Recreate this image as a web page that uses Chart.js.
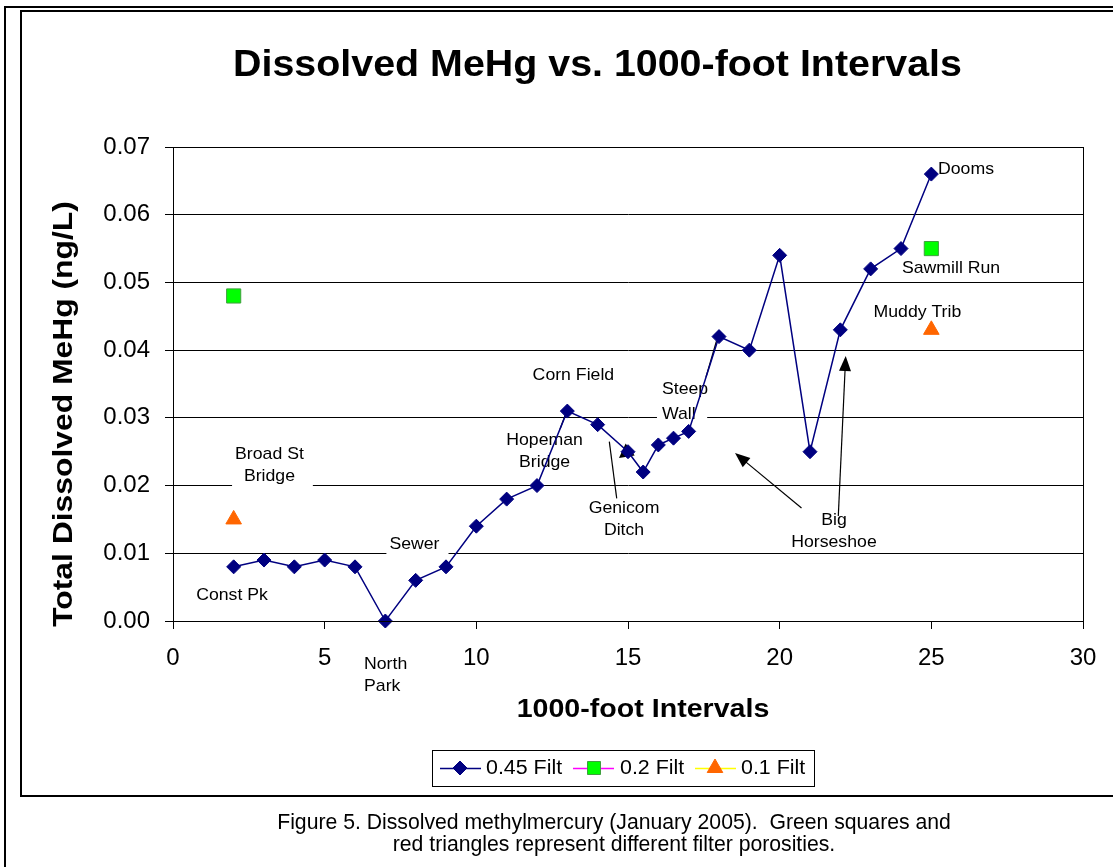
<!DOCTYPE html>
<html>
<head>
<meta charset="utf-8">
<title>Dissolved MeHg vs. 1000-foot Intervals</title>
<script src="https://cdn.jsdelivr.net/npm/chart.js@4/dist/chart.umd.min.js"></script>
<style>
  html, body { margin: 0; padding: 0; background: #fff; }
  body { width: 1113px; height: 867px; position: relative; overflow: hidden;
         font-family: "Liberation Sans", Arial, sans-serif; }
  #pageFrame { position: absolute; left: 4px; top: 6px; width: 1300px; height: 1000px;
               border-left: 2px solid #000; border-top: 2px solid #000; }
  #chartFrame { position: absolute; left: 20px; top: 10px; width: 1200px; height: 783px;
                border: 2px solid #000; background: #fff; }
  #plot { position: absolute; left: 0; top: 0; width: 1113px; height: 867px; }
  #caption { position: absolute; left: 114px; top: 811px; width: 1000px; text-align: center;
             font-size: 21.2px; line-height: 21.5px; color: #000; }
</style>
</head>
<body>
<div id="pageFrame"></div>
<div id="chartFrame"></div>
<canvas id="plot" width="1113" height="867"></canvas>
<div id="caption">Figure 5. Dissolved methylmercury (January 2005).&nbsp; Green squares and<br>red triangles represent different filter porosities.</div>

<script>
// ---- data -------------------------------------------------------------
const intervals045 = [2, 3, 4, 5, 6, 7, 8, 9, 10, 11, 12, 13, 14, 15, 15.5, 16, 16.5, 17, 18, 19, 20, 21, 22, 23, 24, 25];
const mehg045      = [0.008, 0.009, 0.008, 0.009, 0.008, 0.000, 0.006, 0.008, 0.014, 0.018, 0.020, 0.031, 0.029, 0.025,
                      0.022, 0.026, 0.027, 0.028, 0.042, 0.040, 0.054, 0.025, 0.043, 0.052, 0.055, 0.066];
const intervals02  = [2, 25];
const mehg02       = [0.048, 0.055];
const intervals01  = [2, 25];
const mehg01       = [0.015, 0.043];

const xTickValues = [0, 5, 10, 15, 20, 25, 30];
const xTickLabels = ['0', '5', '10', '15', '20', '25', '30'];
const yTickValues = [0, 0.01, 0.02, 0.03, 0.04, 0.05, 0.06, 0.07];
const yTickLabels = ['0.00', '0.01', '0.02', '0.03', '0.04', '0.05', '0.06', '0.07'];

const seriesNames = ['0.45 Filt', '0.2 Filt', '0.1 Filt'];

// Site names along the stream, placed in axis units
const siteLabels = [
  { text: ['Broad St', 'Bridge'],  x: 3.18,  y: 0.0230,  box: true },
  { text: ['Const Pk'],            x: 1.945, y: 0.00377 },
  { text: ['Sewer'],               x: 7.96,  y: 0.01137, box: true },
  { text: ['North', 'Park'],       x: 6.297, y: -0.00805, align: 'left' },
  { text: ['Corn Field'],          x: 13.20, y: 0.03626 },
  { text: ['Hopeman', 'Bridge'],   x: 12.25, y: 0.0250 },
  { text: ['Genicom', 'Ditch'],    x: 14.87, y: 0.01503 },
  { text: ['Steep', 'Wall'],       x: 16.12, y: 0.03238, align: 'left', box: true, gap: 25 },
  { text: ['Big', 'Horseshoe'],    x: 21.79, y: 0.01325 },
  { text: ['Dooms'],               x: 25.22, y: 0.06675, align: 'left' },
  { text: ['Sawmill Run'],         x: 25.65, y: 0.05213 },
  { text: ['Muddy Trib'],          x: 24.54, y: 0.04563 }
];

// Leader lines from the site names to their points (axis units)
const leaders = [
  { from: [12.76, 0.02835],  to: [12.956, 0.03072] },
  { from: [14.628, 0.01812], to: [14.384, 0.02648] },
  { from: [17.572, 0.03603], to: [17.918, 0.04135] },
  { from: [20.72, 0.01669],  to: [18.528, 0.02481], head: true },
  { from: [21.933, 0.01551], to: [22.177, 0.03913], head: true },
  { from: [15.40, 0.02643],  to: [14.703, 0.02407], head: true, headOnly: true }
];

const FONT = "'Liberation Sans', Arial, sans-serif";

function toPoints(xs, ys) { return xs.map((x, i) => ({ x: x, y: ys[i] })); }

function drawText(ctx, str, x, y, o) {
  ctx.save();
  ctx.translate(x, y);
  if (o.rot) ctx.rotate(o.rot);
  ctx.scale(o.sx || 1, 1);
  ctx.font = o.font;
  ctx.textAlign = o.align || 'center';
  ctx.textBaseline = o.baseline || 'middle';
  ctx.fillStyle = '#000';
  ctx.fillText(str, 0, 0);
  ctx.restore();
}

function marker(ctx, style, x, y, fill, stroke) {
  ctx.save();
  ctx.fillStyle = fill; ctx.strokeStyle = stroke; ctx.lineWidth = 1;
  ctx.beginPath();
  if (style === 'diamond') {
    const r = 7;
    ctx.moveTo(x - r, y); ctx.lineTo(x, y - r); ctx.lineTo(x + r, y); ctx.lineTo(x, y + r);
  } else if (style === 'square') {
    const h = 6.5;
    ctx.rect(x - h, y - h, 2 * h, 2 * h);
  } else {
    const r = 9;
    ctx.moveTo(x, y - r); ctx.lineTo(x + r * 0.866, y + r / 2); ctx.lineTo(x - r * 0.866, y + r / 2);
  }
  ctx.closePath(); ctx.fill(); ctx.stroke();
  ctx.restore();
}

function arrowHead(ctx, x1, y1, x2, y2, len, half) {
  const a = Math.atan2(y2 - y1, x2 - x1);
  ctx.beginPath();
  ctx.moveTo(x2, y2);
  ctx.lineTo(x2 - len * Math.cos(a) + half * Math.sin(a), y2 - len * Math.sin(a) - half * Math.cos(a));
  ctx.lineTo(x2 - len * Math.cos(a) - half * Math.sin(a), y2 - len * Math.sin(a) + half * Math.cos(a));
  ctx.closePath();
  ctx.fill();
}

// Site labels and leader lines, drawn above the grid and below the series
const sitePlugin = {
  id: 'sites',
  beforeDatasetsDraw(chart) {
    const ctx = chart.ctx, xs = chart.scales.x, ys = chart.scales.y;
    const font = '17px ' + FONT, sx = 1.04;
    siteLabels.forEach(l => {
      const px = xs.getPixelForValue(l.x), py = ys.getPixelForValue(l.y);
      const gap = l.gap || 22, n = l.text.length;
      const align = l.align || 'center';
      ctx.font = font;
      if (l.box) {
        const w = Math.max(...l.text.map(t => ctx.measureText(t).width)) * sx;
        const left = align === 'left' ? px - 5 : px - w / 2 - 3;
        const width = align === 'left' ? w + 4 : w + 12;
        const top = py - (n * gap) / 2 - 3;
        ctx.fillStyle = '#fff';
        ctx.fillRect(left, top, width, n * gap + 8);
      }
      l.text.forEach((t, i) => {
        drawText(ctx, t, px, py + (i - (n - 1) / 2) * gap, { font: font, sx: sx, align: align });
      });
    });
    ctx.save();
    ctx.strokeStyle = '#000'; ctx.fillStyle = '#000'; ctx.lineWidth = 1.2;
    leaders.forEach(p => {
      const x1 = xs.getPixelForValue(p.from[0]), y1 = ys.getPixelForValue(p.from[1]);
      const x2 = xs.getPixelForValue(p.to[0]),   y2 = ys.getPixelForValue(p.to[1]);
      if (!p.headOnly) {
        const a = Math.atan2(y2 - y1, x2 - x1);
        const back = p.head ? 10 : 0;
        ctx.beginPath();
        ctx.moveTo(x1, y1);
        ctx.lineTo(x2 - back * Math.cos(a), y2 - back * Math.sin(a));
        ctx.stroke();
      }
      if (p.head) arrowHead(ctx, x1, y1, x2, y2, p.headOnly ? 14 : 15, p.headOnly ? 7.5 : 6);
    });
    ctx.restore();
  }
};

// Plot frame, titles and legend
const framePlugin = {
  id: 'frame',
  afterDraw(chart) {
    const ctx = chart.ctx, a = chart.chartArea;
    ctx.save();
    ctx.strokeStyle = '#000'; ctx.lineWidth = 1;
    ctx.strokeRect(Math.round(a.left) + 0.5, Math.round(a.top) + 0.5,
                   Math.round(a.right - a.left), Math.round(a.bottom - a.top));
    ctx.restore();

    drawText(ctx, 'Dissolved MeHg vs. 1000-foot Intervals', 597.5, 76,
             { font: 'bold 36px ' + FONT, sx: 1.094, baseline: 'alphabetic' });
    drawText(ctx, 'Total Dissolved MeHg (ng/L)', 72, 414,
             { font: 'bold 28px ' + FONT, sx: 1.137, baseline: 'alphabetic', rot: -Math.PI / 2 });
    drawText(ctx, '1000-foot Intervals', 643, 717,
             { font: 'bold 26px ' + FONT, sx: 1.1, baseline: 'alphabetic' });

    // legend
    ctx.save();
    ctx.strokeStyle = '#000'; ctx.lineWidth = 1;
    ctx.strokeRect(432.5, 750.5, 382, 36);
    const ly = 768;
    const items = [
      { x0: 440, mx: 460, tx: 486, line: '#000080', style: 'diamond', fill: '#000080', stroke: '#000080' },
      { x0: 573, mx: 594, tx: 620, line: '#FF00FF', style: 'square',  fill: '#00FF00', stroke: '#3f9f3f' },
      { x0: 695, mx: 715, tx: 741, line: '#FFFF00', style: 'triangle', fill: '#FF6600', stroke: '#FF6600' }
    ];
    items.forEach((it, i) => {
      ctx.strokeStyle = it.line; ctx.lineWidth = 1.5;
      ctx.beginPath(); ctx.moveTo(it.x0, ly + 0.5); ctx.lineTo(it.x0 + 41, ly + 0.5); ctx.stroke();
      marker(ctx, it.style, it.mx, ly, it.fill, it.stroke);
      drawText(ctx, seriesNames[i], it.tx, ly, { font: '20px ' + FONT, sx: 1.07, align: 'left' });
    });
    ctx.restore();
  }
};

new Chart(document.getElementById('plot'), {
  type: 'scatter',
  data: {
    datasets: [
      {
        label: seriesNames[0],
        data: toPoints(intervals045, mehg045),
        showLine: true,
        borderColor: '#000080',
        backgroundColor: '#000080',
        borderWidth: 1.5,
        pointStyle: 'rectRot',
        pointRadius: 7,
        pointBorderWidth: 1,
        pointBorderColor: '#000080',
        pointBackgroundColor: '#000080',
        clip: false
      },
      {
        label: seriesNames[1],
        data: toPoints(intervals02, mehg02),
        showLine: false,
        pointStyle: 'rect',
        pointRadius: 10,
        pointBorderWidth: 1,
        pointBorderColor: '#3f9f3f',
        pointBackgroundColor: '#00FF00',
        clip: false
      },
      {
        label: seriesNames[2],
        data: toPoints(intervals01, mehg01),
        showLine: false,
        pointStyle: 'triangle',
        pointRadius: 9,
        pointBorderWidth: 1,
        pointBorderColor: '#FF6600',
        pointBackgroundColor: '#FF6600',
        clip: false
      }
    ]
  },
  options: {
    responsive: false,
    animation: false,
    devicePixelRatio: 1,
    events: [],
    layout: { padding: { left: 0, top: 147, right: 30, bottom: 186 } },
    plugins: { legend: { display: false }, title: { display: false }, tooltip: { enabled: false } },
    scales: {
      x: {
        type: 'linear', min: 0, max: 30,
        afterFit: s => { s.height = 60; },
        afterBuildTicks: s => { s.ticks = xTickValues.map(v => ({ value: v })); },
        ticks: { callback: (v, i) => xTickLabels[i], font: { family: FONT, size: 24 }, color: '#000',
                 padding: 15, maxRotation: 0, autoSkip: false },
        grid: { drawOnChartArea: false, drawTicks: true, tickLength: 8, color: '#000', lineWidth: 1 },
        border: { color: '#000', width: 1 }
      },
      y: {
        type: 'linear', min: 0, max: 0.07,
        afterFit: s => { s.width = 173; },
        afterBuildTicks: s => { s.ticks = yTickValues.map(v => ({ value: v })); },
        ticks: { callback: (v, i) => yTickLabels[i], font: { family: FONT, size: 24 }, color: '#000',
                 padding: 15, autoSkip: false },
        grid: { drawTicks: true, tickLength: 8, color: '#000', lineWidth: 1 },
        border: { color: '#000', width: 1 }
      }
    }
  },
  plugins: [sitePlugin, framePlugin]
});
</script>
</body>
</html>
